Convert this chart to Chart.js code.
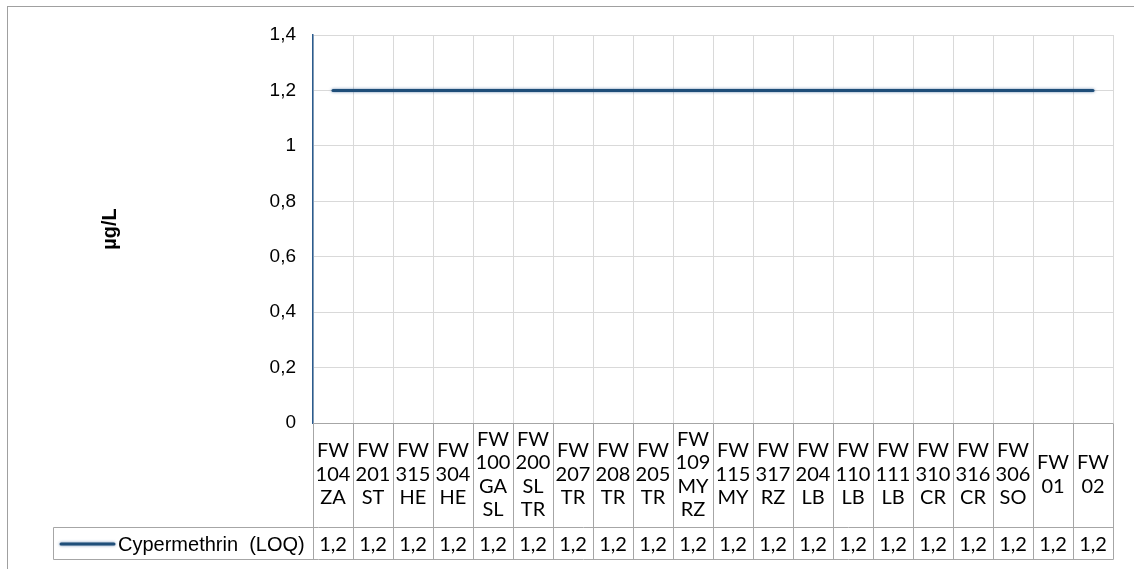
<!DOCTYPE html>
<html>
<head>
<meta charset="utf-8">
<script src="https://cdn.jsdelivr.net/npm/chart.js@4.4.1/dist/chart.umd.min.js"></script>
<style>
    html, body { margin: 0; padding: 0; background: #fff; }
    #wrap { width: 1134px; height: 569px; }
</style>
</head>
<body>
<div id="wrap"><canvas id="chart" width="1134" height="569"></canvas></div>
<script>
// sampling sites, one label line per entry
var categories = [
    ["FW", "104", "ZA"], ["FW", "201", "ST"], ["FW", "315", "HE"], ["FW", "304", "HE"],
    ["FW", "100", "GA", "SL"], ["FW", "200", "SL", "TR"], ["FW", "207", "TR"], ["FW", "208", "TR"],
    ["FW", "205", "TR"], ["FW", "109", "MY", "RZ"], ["FW", "115", "MY"], ["FW", "317", "RZ"],
    ["FW", "204", "LB"], ["FW", "110", "LB"], ["FW", "111", "LB"], ["FW", "310", "CR"],
    ["FW", "316", "CR"], ["FW", "306", "SO"], ["FW", "01"], ["FW", "02"]
];
var seriesName = "Cypermethrin  (LOQ)";
var loqValues = [1.2, 1.2, 1.2, 1.2, 1.2, 1.2, 1.2, 1.2, 1.2, 1.2,
                 1.2, 1.2, 1.2, 1.2, 1.2, 1.2, 1.2, 1.2, 1.2, 1.2];
var yTicks = [0, 0.2, 0.4, 0.6, 0.8, 1, 1.2, 1.4];
var yTitle = "µg/L";

var LINE_COLOR = "#1F4E79";
var HALO_COLOR = "rgba(60, 100, 150, 0.75)";
var TABLE_COLOR = "#a6a6a6";
var LABEL_FONT = "20px Lato";

function fmt(v) {
    return String(Math.round(v * 10) / 10).replace(".", ",");
}

// soft halo around the series line, like the Excel glow
var haloPlugin = {
    id: "halo",
    beforeDatasetDraw: function (chart) {
        var ctx = chart.ctx;
        ctx.save();
        ctx.shadowColor = HALO_COLOR;
        ctx.shadowBlur = 3;
    },
    afterDatasetDraw: function (chart) {
        chart.ctx.restore();
    }
};

// outer frame of the chart object
var framePlugin = {
    id: "frame",
    beforeDraw: function (chart) {
        var ctx = chart.ctx;
        ctx.save();
        ctx.strokeStyle = "#a0a0a0";
        ctx.lineWidth = 1;
        ctx.strokeRect(7.5, 6.5, 2000, 2000);
        ctx.restore();
    }
};

// data table under the plot: category cells, legend key and values
var tablePlugin = {
    id: "dataTable",
    afterDraw: function (chart) {
        var ctx = chart.ctx;
        var xs = chart.scales.x;
        var n = categories.length;
        var w = (xs.right - xs.left) / n;
        var top = Math.round(chart.chartArea.bottom) + 0.5;
        var mid = top + 104;
        var bot = top + 136;
        var legLeft = 53.5;
        var right = Math.round(xs.right) + 0.5;

        ctx.save();
        ctx.strokeStyle = TABLE_COLOR;
        ctx.lineWidth = 1;
        ctx.beginPath();
        ctx.moveTo(Math.round(xs.left) + 0.5, top); ctx.lineTo(right, top);
        ctx.moveTo(legLeft, mid); ctx.lineTo(right, mid);
        ctx.moveTo(legLeft, bot); ctx.lineTo(right, bot);
        for (var i = 0; i <= n; i++) {
            var vx = Math.round(xs.left + i * w) + 0.5;
            ctx.moveTo(vx, top); ctx.lineTo(vx, bot);
        }
        ctx.moveTo(legLeft, mid); ctx.lineTo(legLeft, bot);
        ctx.stroke();

        ctx.fillStyle = "#000";
        ctx.font = LABEL_FONT;
        ctx.textAlign = "center";
        ctx.textBaseline = "middle";
        var lh = 23.5;
        var cellMid = (top + mid) / 2 - 1;
        for (var j = 0; j < n; j++) {
            var cx = xs.getPixelForValue(j);
            var lines = categories[j];
            var y0 = cellMid - (lines.length - 1) * lh / 2;
            for (var k = 0; k < lines.length; k++) {
                ctx.fillText(lines[k], cx, y0 + k * lh);
            }
            ctx.fillText(fmt(loqValues[j]), cx, (mid + bot) / 2 + 1);
        }

        // legend key
        var ky = Math.round((mid + bot) / 2);
        ctx.shadowColor = HALO_COLOR;
        ctx.shadowBlur = 3;
        ctx.strokeStyle = LINE_COLOR;
        ctx.lineWidth = 3;
        ctx.lineCap = "round";
        ctx.beginPath();
        ctx.moveTo(61, ky); ctx.lineTo(114, ky);
        ctx.stroke();
        ctx.shadowBlur = 0;
        ctx.shadowColor = "transparent";
        ctx.font = "20px 'Liberation Sans'";
        ctx.textAlign = "left";
        ctx.fillText(seriesName, 118, ky + 1);
        ctx.restore();
    }
};

new Chart(document.getElementById("chart"), {
    type: "line",
    data: {
        labels: categories.map(function (c) { return c.join(" "); }),
        datasets: [{
            label: seriesName,
            data: loqValues,
            borderColor: LINE_COLOR,
            borderWidth: 3,
            borderCapStyle: "round",
            pointRadius: 0,
            fill: false,
            tension: 0
        }]
    },
    options: {
        responsive: false,
        animation: false,
        devicePixelRatio: 1,
        layout: { padding: { left: 98, top: 35, right: 21, bottom: 10 } },
        plugins: {
            legend: { display: false },
            tooltip: { enabled: false }
        },
        scales: {
            x: {
                type: "category",
                offset: true,
                grid: { offset: true, color: "#d9d9d9", drawTicks: false },
                border: { display: false },
                ticks: { display: false },
                afterFit: function (s) { s.height = 136; }
            },
            y: {
                min: 0,
                max: 1.4,
                afterBuildTicks: function (s) {
                    s.ticks = yTicks.map(function (v) { return { value: v }; });
                },
                grid: { color: "#d9d9d9", drawTicks: false },
                border: { color: "#2B5C8F", width: 1.5 },
                ticks: {
                    color: "#000",
                    padding: 17,
                    font: { family: "'Liberation Sans'", size: 19 },
                    callback: function (v) { return fmt(v); }
                },
                title: {
                    display: true,
                    text: yTitle,
                    color: "#000",
                    padding: 0,
                    font: { family: "'Liberation Sans'", size: 20, weight: "bold" }
                },
                afterFit: function (s) { s.width = 215; }
            }
        }
    },
    plugins: [framePlugin, haloPlugin, tablePlugin]
});
</script>
</body>
</html>
